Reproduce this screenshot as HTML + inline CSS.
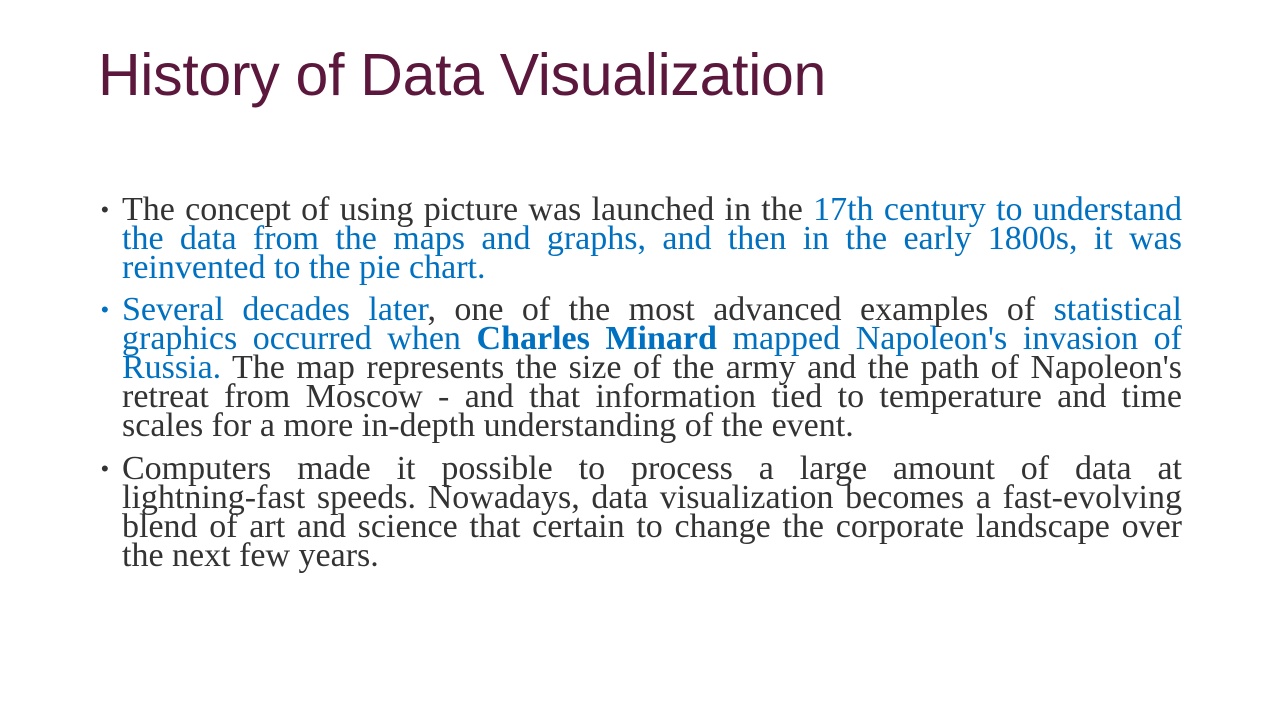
<!DOCTYPE html>
<html><head><meta charset="utf-8">
<style>
html,body{margin:0;padding:0;background:#fff;}
#slide{position:relative;width:1280px;height:720px;overflow:hidden;background:#fff;}
#title{position:absolute;left:98px;top:41px;font-family:"Liberation Sans",sans-serif;font-size:59px;color:#5c173d;white-space:nowrap;letter-spacing:-0.3px;}
.ln{position:absolute;left:122px;width:1060px;height:29px;line-height:29px;font-family:"Liberation Serif",serif;font-size:34px;color:#333;text-align:justify;text-align-last:justify;white-space:nowrap;}
.ln.last{text-align-last:left;}
.b{color:#0070c0;}
.bullet{position:absolute;left:101px;font-family:"Liberation Sans",sans-serif;font-size:22px;line-height:29px;color:#333;}
</style></head>
<body>
<div id="slide">
<div id="title">History of Data Visualization</div>

<div class="bullet" style="top:195px">•</div>
<div class="ln" style="top:195px">The concept of using picture was launched in the <span class="b">17th century to understand</span></div>
<div class="ln b" style="top:224px">the data from the maps and graphs, and then in the early 1800s, it was</div>
<div class="ln b last" style="top:253px">reinvented to the pie chart.</div>

<div class="bullet b" style="top:295px;color:#0070c0">•</div>
<div class="ln" style="top:295px"><span class="b">Several decades later</span>, one of the most advanced examples of <span class="b">statistical</span></div>
<div class="ln b" style="top:324px">graphics occurred when <b>Charles Minard</b> mapped Napoleon's invasion of</div>
<div class="ln" style="top:353px"><span class="b">Russia.</span> The map represents the size of the army and the path of Napoleon's</div>
<div class="ln" style="top:382px">retreat from Moscow - and that information tied to temperature and time</div>
<div class="ln last" style="top:411px">scales for a more in-depth understanding of the event.</div>

<div class="bullet" style="top:454px">•</div>
<div class="ln" style="top:454px">Computers made it possible to process a large amount of data at</div>
<div class="ln" style="top:483px">lightning-fast speeds. Nowadays, data visualization becomes a fast-evolving</div>
<div class="ln" style="top:512px">blend of art and science that certain to change the corporate landscape over</div>
<div class="ln last" style="top:541px">the next few years.</div>
</div>
</body></html>
